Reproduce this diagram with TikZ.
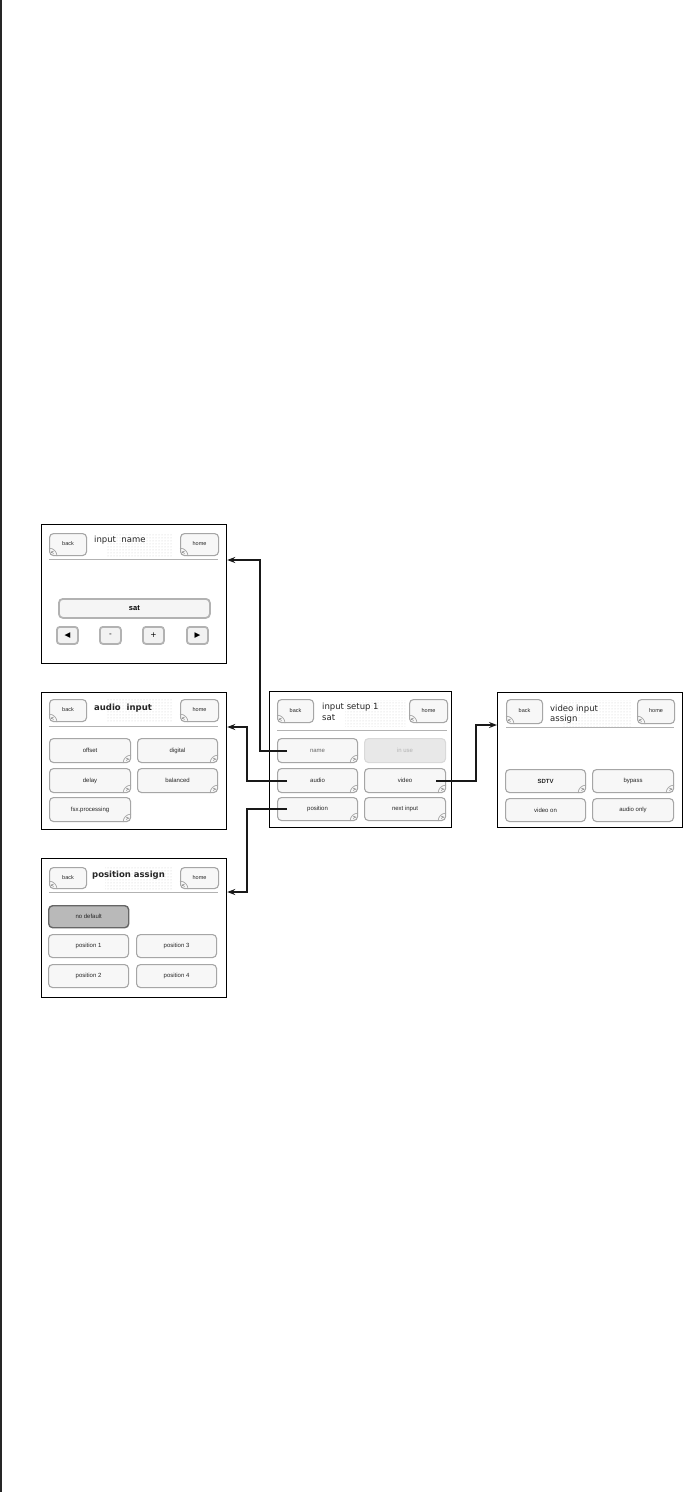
\documentclass[tikz,border=0pt]{standalone}
\usepackage{fontspec}
\setmainfont{Liberation Sans}
\newfontfamily\titlefont{DejaVu Sans}
\newfontfamily\symfont{DejaVu Sans}
\usetikzlibrary{arrows.meta,patterns,calc}
\tikzset{
  panel/.style={draw=black, line width=1.2pt, fill=white, rectangle, inner sep=0, anchor=north west},
  btn/.style={draw=gray!70, line width=1.1pt, fill=gray!6, rounded corners=4pt, inner sep=0, anchor=north west, text=black!85, font=\fontsize{6}{7}\selectfont},
  nbtn/.style={btn, font=\fontsize{5.5}{6}\selectfont},
  sqbtn/.style={draw=gray!60, line width=1.8pt, fill=gray!10, rounded corners=3pt, inner sep=0, anchor=north west, font=\symfont\fontsize{7.5}{8}\selectfont},
  tab/.style={draw=gray!70, line width=0.7pt},
  tabtxt/.style={inner sep=0, font=\fontsize{5.5}{6}\selectfont, text=black!80},
  sepline/.style={draw=gray!60, line width=0.6pt},
  ttl/.style={anchor=west, inner sep=0, text=black!85, font=\titlefont\fontsize{8.5}{9}\selectfont},
  dotbg/.style={pattern=dots, pattern color=gray!40},
  arr/.style={line width=2pt, draw=black!90, line join=miter, -{Stealth[length=8pt,width=6pt]}},
}
% name, x, y, w, h, label  -> button with ">" tab
\newcommand\tabbtn[6]{%
  \node[btn, minimum width=#4pt, minimum height=#5pt] (#1) at (#2,#3) {#6};
  \draw[tab] ([xshift=-8pt]#1.south east) to[out=90,in=180] ([yshift=8pt]#1.south east);
  \node[tabtxt] at ([xshift=-3.5pt,yshift=3.3pt]#1.south east) {>};
}
% name, x, y, w, h, label  -> plain button
\newcommand\plainbtn[6]{%
  \node[btn, minimum width=#4pt, minimum height=#5pt] (#1) at (#2,#3) {#6};
}
% name, x, y, w, h, label  -> back/home button with "<" tab
\newcommand\navbtn[6]{%
  \node[nbtn, minimum width=#4pt, minimum height=#5pt] (#1) at (#2,#3) {\raisebox{2pt}{#6}};
  \draw[tab] ([xshift=8pt]#1.south west) to[out=90,in=0] ([yshift=8pt]#1.south west);
  \node[tabtxt] at ([xshift=3.5pt,yshift=3.3pt]#1.south west) {<};
}
\begin{document}
\begin{tikzpicture}[x=1pt,y=-1pt]
\useasboundingbox (0,0) rectangle (690,1492);
\draw[line width=2pt, black!85] (1,0) -- (1,1492);

% ---------- panel: input name ----------
\node[panel, minimum width=185pt, minimum height=139pt] (pName) at (41,524) {};
\fill[dotbg] (107,533) rectangle (173,556);
\node[ttl] (tName) at (94,540) {input\ \ name};
\navbtn{nBack}{49}{533}{37}{22}{back}
\navbtn{nHome}{180}{533}{38}{22}{home}
\draw[sepline] (49,559) -- (218,559);
\node[draw=gray!60, line width=1.8pt, fill=gray!8, rounded corners=4pt, inner sep=0, anchor=north west,
      minimum width=151pt, minimum height=19pt, font=\bfseries\fontsize{7.5}{8}\selectfont] (nSat) at (58,598) {sat};
\node[sqbtn, minimum width=21pt, minimum height=17pt] (nLeft) at (56,626) {◀};
\node[sqbtn, minimum width=21pt, minimum height=17pt] (nMinus) at (99,626) {-};
\node[sqbtn, minimum width=21pt, minimum height=17pt] (nPlus) at (142,626) {+};
\node[sqbtn, minimum width=21pt, minimum height=17pt] (nRight) at (186,626) {▶};

% ---------- panel: audio input ----------
\node[panel, minimum width=185pt, minimum height=137pt] (pAudio) at (41,692) {};
\fill[dotbg] (107,699) rectangle (173,722);
\node[ttl, font=\titlefont\bfseries\fontsize{8.5}{9}\selectfont] (tAudio) at (94,708) {audio\ \ input};
\navbtn{aBack}{49}{699}{37}{22}{back}
\navbtn{aHome}{180}{699}{38}{22}{home}
\draw[sepline] (49,726) -- (218,726);
\tabbtn{aOffset}{49}{738}{81}{24}{offset}
\tabbtn{aDigital}{137}{738}{80}{24}{digital}
\tabbtn{aDelay}{49}{768}{81}{24}{delay}
\tabbtn{aBalanced}{137}{768}{80}{24}{balanced}
\tabbtn{aFsx}{49}{797}{81}{24}{fsx.processing}

% ---------- panel: position assign ----------
\node[panel, minimum width=185pt, minimum height=139pt] (pPos) at (41,858) {};
\fill[dotbg] (105,866) rectangle (172,890);
\node[ttl, font=\titlefont\bfseries\fontsize{8.5}{9}\selectfont] (tPos) at (92,875) {position\ assign};
\navbtn{qBack}{49}{867}{37}{21}{back}
\navbtn{qHome}{180}{867}{38}{21}{home}
\draw[sepline] (49,892) -- (218,892);
\node[btn, draw=gray!80!black, line width=1.4pt, fill=gray!55, minimum width=80pt, minimum height=22pt] (qNoDef) at (48,905) {no default};
\plainbtn{qPos1}{48}{934}{80}{23}{position 1}
\plainbtn{qPos3}{136}{934}{80}{23}{position 3}
\plainbtn{qPos2}{48}{964}{80}{23}{position 2}
\plainbtn{qPos4}{136}{964}{80}{23}{position 4}

% ---------- panel: input setup ----------
\node[panel, minimum width=182pt, minimum height=136pt] (pSetup) at (269,691) {};
\fill[dotbg] (345,700) rectangle (405,726);
\node[ttl] (tSetup1) at (322,707) {input\ setup\ 1};
\node[ttl] (tSetup2) at (322,718) {sat};
\navbtn{sBack}{277}{699}{36}{23}{back}
\navbtn{sHome}{409}{699}{38}{23}{home}
\draw[sepline] (277,730) -- (447,730);
\tabbtn{bName}{277}{738}{80}{24}{\textcolor{black!60}{name}}
\node[btn, draw=gray!30, fill=gray!18, text=gray!60, minimum width=81pt, minimum height=24pt] (bInUse) at (364,738) {in use};
\tabbtn{bAudio}{277}{768}{80}{24}{audio}
\tabbtn{bVideo}{364}{768}{81}{24}{video}
\tabbtn{bPosition}{277}{797}{80}{23}{position}
\tabbtn{bNext}{364}{797}{81}{23}{next input}

% ---------- panel: video input assign ----------
\node[panel, minimum width=185pt, minimum height=135pt] (pVideo) at (497,692) {};
\fill[dotbg] (563,700) rectangle (632,726);
\node[ttl] (tVideo1) at (550,709) {video\ input};
\node[ttl] (tVideo2) at (550,719) {assign};
\navbtn{vBack}{506}{699}{36}{24}{back}
\navbtn{vHome}{637}{699}{37}{24}{home}
\draw[sepline] (506,727) -- (674,727);
\tabbtn{vSDTV}{505}{769}{80}{23}{\textbf{SDTV}}
\tabbtn{vBypass}{592}{769}{81}{23}{bypass}
\plainbtn{vVideoOn}{505}{798}{80}{23}{video on}
\plainbtn{vAudioOnly}{592}{798}{81}{23}{audio only}

% ---------- connectors ----------
\coordinate (k1) at (260,560);
\coordinate (k2) at (247,727);
\coordinate (k3) at (247,892);
\coordinate (k4) at (476,725);
\draw[arr] ([xshift=10pt]bName.west) -| (k1) -- (k1 -| pName.east);
\draw[arr] ([xshift=10pt]bAudio.west) -| (k2) -- (k2 -| pAudio.east);
\draw[arr] ([xshift=10pt]bPosition.west) -| (k3) -- (k3 -| pPos.east);
\draw[arr] ([xshift=-10pt]bVideo.east) -| (k4) -- (k4 -| pVideo.west);
\end{tikzpicture}
\end{document}
